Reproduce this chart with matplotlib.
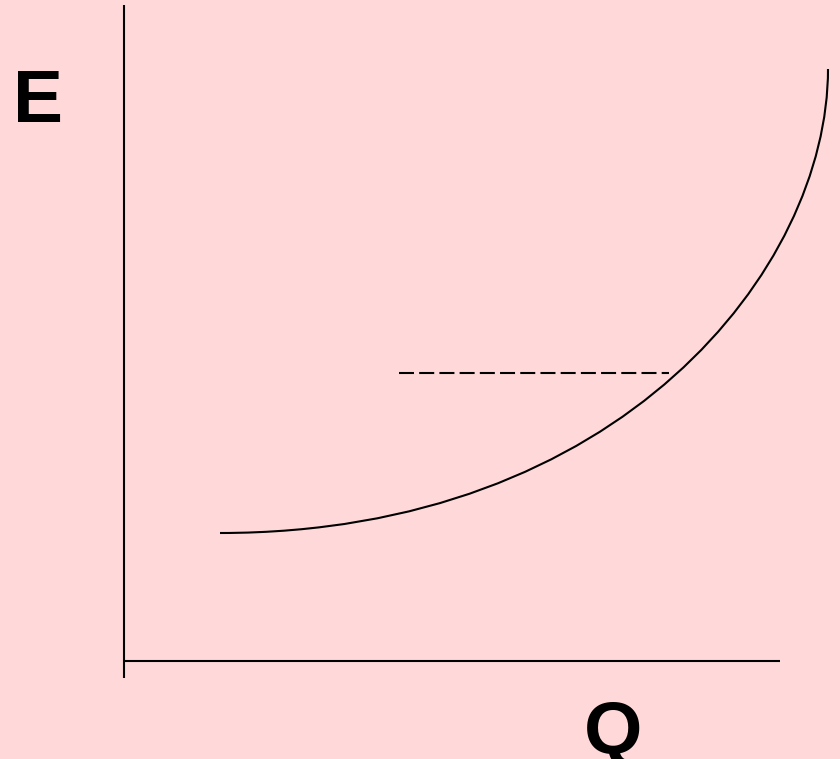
import matplotlib
matplotlib.use("Agg")
import matplotlib.pyplot as plt
from matplotlib.path import Path
from matplotlib.patches import PathPatch

# Data (schematic units, origin at axes crossing)
curve_x = [96, 496, 704, 704]      # cubic Bezier control points
curve_y = [128, 128, 392, 592]
dash_x = [275, 545]
dash_y = [288, 288]
yaxis_x = [0, 0]
yaxis_y = [-17, 656]
xaxis_x = [0, 656]
xaxis_y = [0, 0]
label_e = "E"
label_q = "Q"

bg = "#FFD9D9"
fig = plt.figure(figsize=(8.4, 7.59), dpi=100, facecolor=bg)
ax = fig.add_axes([0, 0, 1, 1])
ax.set_facecolor(bg)
ax.set_xlim(-124, 716)
ax.set_ylim(-98, 661)
ax.axis("off")

ax.plot(yaxis_x, yaxis_y, color="black", lw=1.5, solid_capstyle="butt")
ax.plot(xaxis_x, xaxis_y, color="black", lw=1.5, solid_capstyle="butt")

verts = list(zip(curve_x, curve_y))
path = Path(verts, [Path.MOVETO, Path.CURVE4, Path.CURVE4, Path.CURVE4])
ax.add_patch(PathPatch(path, facecolor="none", edgecolor="black", lw=1.5))

ax.plot(dash_x, dash_y, color="black", lw=1.5, linestyle=(0, (7.2, 2.5)))

ax.text(-86.5, 539, label_e, family="Liberation Sans", fontweight="bold",
        fontsize=54, ha="center", va="baseline")
ax.text(489, -92, label_q, family="Liberation Sans", fontweight="bold",
        fontsize=54, ha="center", va="baseline")

fig.savefig("out.png", dpi=100, facecolor=bg)
